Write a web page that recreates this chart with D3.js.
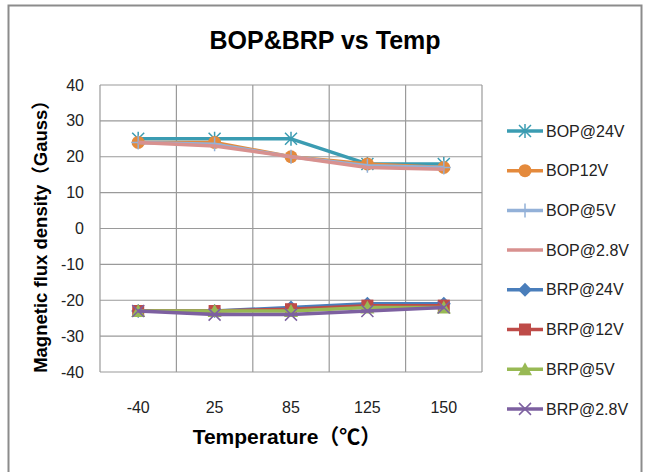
<!DOCTYPE html>
<html>
<head>
<meta charset="utf-8">
<script src="https://cdn.jsdelivr.net/npm/d3@7"></script>
<style>
  body { margin: 0; background: #fff; }
  text { font-family: "Liberation Sans", Arial, "Noto Sans CJK SC", sans-serif; }
</style>
</head>
<body>
<div id="chart"></div>
<script>
'use strict';

const temps = ["-40", "25", "85", "125", "150"];
const yTicks = [40, 30, 20, 10, 0, -10, -20, -30, -40];

const bop24 = [25, 25, 25, 18, 18];
const bop12 = [24, 24, 20, 18, 17];
const bop5 = [24, 23.5, 20, 17.5, 17];
const bop28 = [24, 23, 20, 17, 16.5];
const brp24 = [-23, -23, -22, -21, -21];
const brp12 = [-23, -23, -22.5, -21.5, -21.5];
const brp5 = [-23, -23, -23, -22, -22];
const brp28 = [-23, -24, -24, -23, -22];

const seriesNames = ["BOP@24V", "BOP12V", "BOP@5V", "BOP@2.8V", "BRP@24V", "BRP@12V", "BRP@5V", "BRP@2.8V"];
const seriesValues = [bop24, bop12, bop5, bop28, brp24, brp12, brp5, brp28];
const seriesColors = ["#3b9cb2", "#e48a3c", "#93b1d8", "#d8918f", "#4a7ebb", "#be4b48", "#98b954", "#7d60a0"];
const seriesMarkers = ["asterisk", "circle", "plus", "none", "diamond", "square", "triangle", "x"];

const width = 645, height = 472;
const margin = {top: 85, right: 163, bottom: 100, left: 100};

let svg = d3.select("#chart").append("svg")
    .attr("width", width)
    .attr("height", height);

// outer frame
svg.append("rect")
    .attr("x", 8.5).attr("y", 5.5)
    .attr("width", 633).attr("height", 480)
    .attr("fill", "none")
    .attr("stroke", "#8c8c8c")
    .attr("stroke-width", 2);

let x = d3.scaleBand()
    .domain(temps)
    .range([margin.left, width - margin.right])
    .padding(0);

let y = d3.scaleLinear()
    .domain([-40, 40])
    .range([height - margin.bottom, margin.top]);

let grid = svg.append("g").attr("stroke", "#9a9a9a").attr("stroke-width", 1.2);

grid.selectAll(".hgrid")
    .data(yTicks)
    .join("line")
    .attr("x1", margin.left).attr("x2", width - margin.right)
    .attr("y1", d => y(d)).attr("y2", d => y(d));

grid.selectAll(".vgrid")
    .data(temps)
    .join("line")
    .attr("x1", d => x(d)).attr("x2", d => x(d))
    .attr("y1", y(40)).attr("y2", y(-40));

grid.append("line")
    .attr("x1", width - margin.right).attr("x2", width - margin.right)
    .attr("y1", y(40)).attr("y2", y(-40));

// y tick labels
svg.append("g")
    .selectAll("text")
    .data(yTicks)
    .join("text")
    .attr("x", 84)
    .attr("y", d => y(d))
    .attr("dy", "0.35em")
    .attr("text-anchor", "end")
    .attr("font-size", 16)
    .attr("fill", "#222")
    .text(d => d);

// x tick labels
svg.append("g")
    .selectAll("text")
    .data(temps)
    .join("text")
    .attr("x", d => x(d) + x.bandwidth() / 2)
    .attr("y", 407)
    .attr("dy", "0.35em")
    .attr("text-anchor", "middle")
    .attr("font-size", 16)
    .attr("fill", "#222")
    .text(d => d);

// titles
svg.append("text")
    .attr("x", 325).attr("y", 49)
    .attr("text-anchor", "middle")
    .attr("font-size", 25)
    .attr("font-weight", "bold")
    .text("BOP&BRP vs Temp");

svg.append("text")
    .attr("x", 287).attr("y", 444)
    .attr("text-anchor", "middle")
    .attr("font-size", 21)
    .attr("font-weight", "bold")
    .text("Temperature（℃）");

svg.append("text")
    .attr("transform", `translate(47,232) rotate(-90)`)
    .attr("text-anchor", "middle")
    .attr("font-size", 18.5)
    .attr("font-weight", "bold")
    .text("Magnetic flux density（Gauss）");

function drawMarker(g, type, color) {
    let s = 6;
    if (type === "circle") {
        g.append("circle").attr("r", 6.5).attr("fill", color);
    } else if (type === "square") {
        g.append("rect").attr("x", -6).attr("y", -6).attr("width", 12).attr("height", 12).attr("fill", color);
    } else if (type === "diamond") {
        g.append("path").attr("d", `M0,-7L7,0L0,7L-7,0Z`).attr("fill", color);
    } else if (type === "triangle") {
        g.append("path").attr("d", `M0,-7L7,6L-7,6Z`).attr("fill", color);
    } else if (type === "plus") {
        g.append("path").attr("d", `M0,-${s+1}V${s+1}M-${s+1},0H${s+1}`)
            .attr("stroke", color).attr("stroke-width", 1.5);
    } else if (type === "x") {
        g.append("path").attr("d", `M-${s},-${s}L${s},${s}M-${s},${s}L${s},-${s}`)
            .attr("stroke", color).attr("stroke-width", 1.5);
    } else if (type === "asterisk") {
        g.append("path").attr("d", `M-${s},-${s}L${s},${s}M-${s},${s}L${s},-${s}M0,-${s+1}V${s+1}`)
            .attr("stroke", color).attr("stroke-width", 1.5);
    }
}

let line = d3.line()
    .x((d, i) => x(temps[i]) + x.bandwidth() / 2)
    .y(d => y(d));

seriesValues.forEach((vals, k) => {
    let g = svg.append("g");
    g.append("path")
        .attr("d", line(vals))
        .attr("fill", "none")
        .attr("stroke", seriesColors[k])
        .attr("stroke-width", 3.5)
        .attr("stroke-linejoin", "round");
    vals.forEach((v, i) => {
        let m = g.append("g").attr("transform", `translate(${x(temps[i]) + x.bandwidth() / 2},${y(v)})`);
        drawMarker(m, seriesMarkers[k], seriesColors[k]);
    });
});

// legend
let legend = svg.append("g")
    .selectAll("g")
    .data(seriesNames)
    .join("g")
    .attr("transform", (d, i) => `translate(507,${131 + i * 39.7})`);

legend.append("line")
    .attr("x1", 0).attr("x2", 36)
    .attr("stroke", (d, i) => seriesColors[i])
    .attr("stroke-width", 3.5);

legend.each(function(d, i) {
    let m = d3.select(this).append("g").attr("transform", "translate(18,0)");
    drawMarker(m, seriesMarkers[i], seriesColors[i]);
});

legend.append("text")
    .attr("x", 39)
    .attr("dy", "0.35em")
    .attr("font-size", 16)
    .attr("fill", "#222")
    .text(d => d);
</script>
</body>
</html>
